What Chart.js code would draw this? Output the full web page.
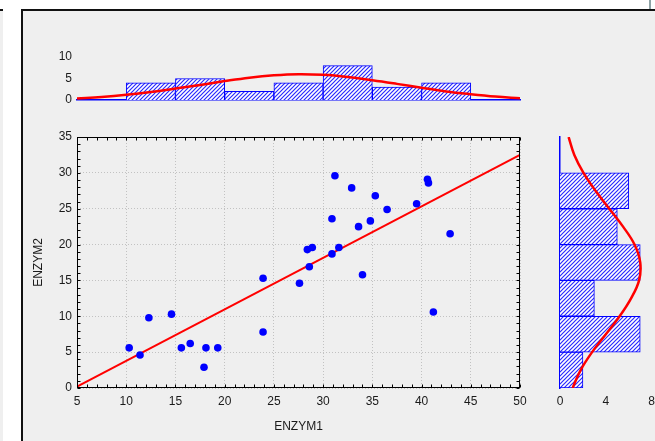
<!DOCTYPE html>
<html>
<head>
<meta charset="utf-8">
<script src="https://cdn.jsdelivr.net/npm/chart.js@4.4.0/dist/chart.umd.min.js"></script>
<style>
    body { margin: 0; width: 655px; height: 441px; overflow: hidden; position: relative; background: #fff; }
    #strip { position: absolute; left: 0; top: 9px; width: 3px; height: 440px; background: #efefef; border-top: 2px solid #111; }
    #frame { position: absolute; left: 21px; top: 9px; width: 700px; height: 500px; background: #efefef; border-left: 2px solid #111; border-top: 2px solid #111; }
    #edge { position: absolute; left: 649px; top: 0; width: 2px; height: 9px; background: #8fa3a6; }
    canvas { position: absolute; left: 0; top: 0; }
</style>
</head>
<body>
<div id="strip"></div>
<div id="frame"></div>
<div id="edge"></div>
<canvas id="topHist" width="655" height="441"></canvas>
<canvas id="sideHist" width="655" height="441"></canvas>
<canvas id="scatter" width="655" height="441"></canvas>

<script>
// --- dane ---
const enzym1 = [10.3, 11.4, 12.3, 14.6, 15.6, 16.5, 17.9, 18.1, 19.3, 23.9, 23.9,
                27.6, 28.4, 28.9, 28.6, 30.9, 30.9, 31.2, 31.6, 32.9, 33.6, 34.0,
                34.8, 35.3, 36.5, 39.5, 40.6, 40.7, 41.2, 42.9];
const enzym2 = [5.6, 4.6, 9.8, 10.3, 5.6, 6.2, 2.9, 5.6, 5.6, 15.3, 7.8,
                14.6, 19.3, 19.6, 16.9, 18.7, 23.6, 29.6, 19.6, 27.9, 22.5, 15.8,
                23.3, 26.8, 24.9, 25.7, 29.1, 28.6, 10.6, 21.5];
const fitX = [5, 50];
const fitY = [0.2, 32.5];

const binsX = [7.5, 12.5, 17.5, 22.5, 27.5, 32.5, 37.5, 42.5, 47.5];
const countsX = [0, 4, 5, 2, 4, 8, 3, 4, 0];
const binsY = [2.5, 7.5, 12.5, 17.5, 22.5, 27.5, 32.5];
const countsY = [2, 7, 3, 7, 5, 6, 0];

const normX = [5, 7.5, 10, 12.5, 15, 17.5, 20, 22.5, 25, 27.5, 30, 32.5, 35, 37.5, 40, 42.5, 45, 47.5, 50];
const normXval = [0.35, 0.7, 1.2, 1.85, 2.65, 3.5, 4.4, 5.2, 5.75, 6.0, 5.85, 5.35, 4.6, 3.75, 2.85, 2.0, 1.35, 0.8, 0.4];
const normY = [0, 2.5, 5, 7.5, 10, 12.5, 15, 17.5, 20, 22.5, 25, 27.5, 30, 32.5, 35];
const normYval = [1.1, 1.8, 2.8, 4.0, 5.2, 6.2, 6.9, 7.0, 6.5, 5.5, 4.3, 3.1, 2.05, 1.25, 0.75];

Chart.defaults.font.family = '"Liberation Sans", Arial, sans-serif';
Chart.defaults.font.size = 12;
Chart.defaults.color = "#1a1a1a";

const textColor = "#1a1a1a";
const blue = "#0000ff";
const red = "#ff0000";

function hatch() {
    const c = document.createElement("canvas");
    c.width = 4; c.height = 4;
    const g = c.getContext("2d");
    g.fillStyle = "#ffffff";
    g.fillRect(0, 0, 4, 4);
    g.strokeStyle = "#2a2aff";
    g.lineWidth = 1.2;
    g.beginPath();
    g.moveTo(0, 4); g.lineTo(4, 0);
    g.moveTo(-1, 1); g.lineTo(1, -1);
    g.moveTo(3, 5); g.lineTo(5, 3);
    g.stroke();
    return g.createPattern(c, "repeat");
}

// stały rozmiar osi, bez dopasowania pod etykiety skrajne
function fixSize(w, h) {
    return s => {
        if (w !== null) s.width = w;
        if (h !== null) s.height = h;
        s.paddingLeft = 0; s.paddingRight = 0;
        s.paddingTop = 0; s.paddingBottom = 0;
    };
}

// ramka + drobne znaczniki osi (do środka)
const frameTicks = {
    id: "frameTicks",
    afterDraw(chart) {
        const { ctx, chartArea: a, scales: { x, y } } = chart;
        const L = Math.round(a.left) + 0.5, R = Math.round(a.right) - 0.5;
        const T = Math.round(a.top) + 0.5, B = Math.round(a.bottom) - 0.5;
        ctx.save();
        ctx.strokeStyle = "#000";
        ctx.lineWidth = 1;
        ctx.beginPath();
        for (let v = x.min; v <= x.max; v++) {
            const p = Math.round(x.getPixelForValue(v)) + 0.5;
            ctx.moveTo(p, T); ctx.lineTo(p, T + 3);
            ctx.moveTo(p, B); ctx.lineTo(p, B - 3);
        }
        for (let v = y.min; v <= y.max; v++) {
            const p = Math.round(y.getPixelForValue(v)) + 0.5;
            ctx.moveTo(L, p); ctx.lineTo(L + 3, p);
            ctx.moveTo(R, p); ctx.lineTo(R - 3, p);
        }
        ctx.stroke();
        ctx.strokeRect(L, T, R - L, B - T);
        ctx.restore();
    }
};

const common = {
    responsive: false,
    animation: false,
    devicePixelRatio: 1,
    events: [],
    plugins: { legend: { display: false }, tooltip: { enabled: false } }
};

/* ---- wykres rozrzutu ---- */
new Chart(document.getElementById("scatter"), {
    type: "scatter",
    data: {
        datasets: [
            {
                data: enzym1.map((v, i) => ({ x: v, y: enzym2[i] })),
                backgroundColor: blue,
                borderWidth: 0,
                pointRadius: 3.8,
                order: 0
            },
            {
                type: "line",
                data: fitX.map((v, i) => ({ x: v, y: fitY[i] })),
                borderColor: red,
                borderWidth: 2,
                pointRadius: 0,
                fill: false,
                order: 1
            }
        ]
    },
    options: {
        ...common,
        layout: { padding: { left: 0, top: 137, right: 135, bottom: 0 } },
        scales: {
            x: {
                type: "linear", min: 5, max: 50,
                afterFit: fixSize(null, 53),
                ticks: { stepSize: 5, padding: 6, color: textColor },
                grid: { color: "#c2c2c2", drawTicks: false },
                border: { display: false, dash: [1, 2] },
                title: { display: true, text: "ENZYM1", color: textColor, padding: { top: 0, bottom: 7 } }
            },
            y: {
                type: "linear", min: 0, max: 35,
                afterFit: fixSize(77, null),
                ticks: { stepSize: 5, padding: 5, color: textColor },
                grid: { color: "#c2c2c2", drawTicks: false },
                border: { display: false, dash: [1, 2] },
                title: { display: true, text: "ENZYM2", color: textColor, padding: { top: 31, bottom: 0 } }
            }
        }
    },
    plugins: [frameTicks]
});

/* ---- histogram górny (ENZYM1) ---- */
new Chart(document.getElementById("topHist"), {
    type: "bar",
    data: {
        datasets: [
            {
                type: "line",
                data: normX.map((v, i) => ({ x: v, y: normXval[i] })),
                borderColor: red,
                borderWidth: 2.5,
                pointRadius: 0,
                tension: 0.4,
                fill: false,
                order: 0
            },
            {
                data: binsX.map((v, i) => ({ x: v, y: countsX[i] })),
                backgroundColor: hatch(),
                borderColor: blue,
                borderWidth: 1,
                borderSkipped: "start",
                barPercentage: 1,
                categoryPercentage: 1,
                order: 1
            }
        ]
    },
    options: {
        ...common,
        layout: { padding: { left: 0, top: 57, right: 135, bottom: 341 } },
        scales: {
            x: {
                type: "linear", min: 5, max: 50, offset: false,
                afterFit: fixSize(null, 0),
                ticks: { display: false },
                grid: { display: false, drawTicks: false, offset: false },
                border: { display: true, color: blue, width: 1.5 }
            },
            y: {
                type: "linear", min: 0, max: 10,
                afterFit: fixSize(77, null),
                ticks: { stepSize: 5, padding: 5, color: textColor },
                grid: { display: false, drawTicks: false },
                border: { display: false }
            }
        }
    }
});

/* ---- histogram boczny (ENZYM2) ---- */
new Chart(document.getElementById("sideHist"), {
    type: "bar",
    data: {
        datasets: [
            {
                type: "line",
                data: normY.map((v, i) => ({ x: normYval[i], y: v })),
                borderColor: red,
                borderWidth: 2.5,
                pointRadius: 0,
                tension: 0.4,
                fill: false,
                order: 0
            },
            {
                data: binsY.map((v, i) => ({ x: countsY[i], y: v })),
                backgroundColor: hatch(),
                borderColor: blue,
                borderWidth: 1,
                borderSkipped: "start",
                barPercentage: 1,
                categoryPercentage: 1,
                order: 1
            }
        ]
    },
    options: {
        ...common,
        indexAxis: "y",
        layout: { padding: { left: 560, top: 137, right: 3.3, bottom: 0 } },
        scales: {
            x: {
                type: "linear", min: 0, max: 8,
                afterFit: fixSize(null, 53),
                ticks: { stepSize: 4, padding: 6, color: textColor },
                grid: { display: false, drawTicks: false },
                border: { display: false }
            },
            y: {
                type: "linear", min: 0, max: 35, offset: false,
                afterFit: fixSize(0, null),
                ticks: { display: false },
                grid: { display: false, drawTicks: false, offset: false },
                border: { display: true, color: blue, width: 1.5 }
            }
        }
    }
});
</script>
</body>
</html>
